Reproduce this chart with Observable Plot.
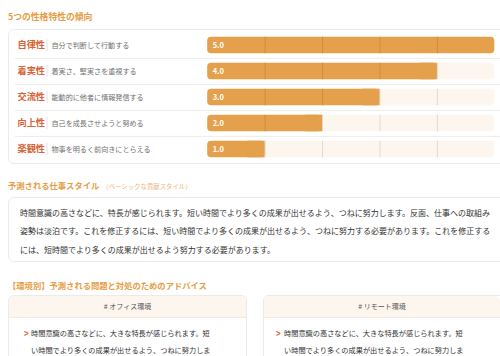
<!DOCTYPE html>
<html><head><meta charset="utf-8">
<script src="https://cdn.jsdelivr.net/npm/d3@7"></script>
<script src="https://cdn.jsdelivr.net/npm/@observablehq/plot@0.6"></script>
<style>
html,body{margin:0;padding:0;width:500px;height:356px;overflow:hidden;background:#fff;}
body{position:relative;font-family:"Noto Sans CJK JP","Noto Sans",sans-serif;color:#333;}
.abs{position:absolute;white-space:nowrap;}
.sec{font-size:8.3px;font-weight:700;color:#e69d45;line-height:12px;}
.sub{font-size:6.4px;font-weight:400;color:#eab77a;margin-left:3px;}
.card{position:absolute;border:1px solid #ebebeb;border-radius:6px;box-sizing:border-box;background:#fff;}
.body{font-size:8px;line-height:18.6px;color:#333;}
.hdr{position:absolute;left:0;right:0;top:0;height:21px;background:#fdf6ee;border-bottom:1px solid #f3ebe1;border-radius:6px 6px 0 0;font-size:7px;line-height:21px;text-align:center;color:#555;}
.item{font-size:7.2px;line-height:17.5px;color:#333;}
.chev{position:absolute;font-size:10.5px;font-weight:700;color:#d8683a;line-height:17.5px;transform:scaleX(0.75);transform-origin:left center;}
#chart{position:absolute;left:0;top:29px;width:504px;}
#chart svg{max-width:none !important;}
</style></head>
<body>
<div class="abs sec" style="left:8px;top:11px;font-size:8.8px">5つの性格特性の傾向</div>
<div class="card" style="left:8px;top:29px;width:504px;height:135px;"></div>
<div id="chart"></div>

<div class="abs sec" style="left:8px;top:179px;">予測される仕事スタイル<span class="sub">（ベーシックな貢献スタイル）</span></div>
<div class="card" style="left:8px;top:197px;width:504px;height:65px;"></div>
<div class="abs body" style="left:20px;top:203.8px;">時間意識の高さなどに、特長が感じられます。短い時間でより多くの成果が出せるよう、つねに努力します。反面、仕事への取組み<br>姿勢は淡泊です。これを修正するには、短い時間でより多くの成果が出せるよう、つねに努力する必要があります。これを修正する<br>には、短時間でより多くの成果が出せるよう努力する必要があります。</div>

<div class="abs sec" style="left:8px;top:278.7px;">【環境別】予測される問題と対処のためのアドバイス</div>
<div class="card" style="left:8px;top:295px;width:239px;height:100px;"><div class="hdr"># オフィス環境</div></div>
<div class="card" style="left:263px;top:295px;width:250px;height:100px;"><div class="hdr" style="right:12px"># リモート環境</div></div>
<div class="abs chev" style="left:24px;top:323.5px;">&gt;</div>
<div class="abs item" style="left:31px;top:324.5px;">時間意識の高さなどに、大きな特長が感じられます。短<br>い時間でより多くの成果が出せるよう、つねに努力しま</div>
<div class="abs chev" style="left:276px;top:323.5px;">&gt;</div>
<div class="abs item" style="left:284px;top:324.5px;">時間意識の高さなどに、大きな特長が感じられます。短<br>い時間でより多くの成果が出せるよう、つねに努力しま</div>

<script>
const traitNames = ["自律性", "着実性", "交流性", "向上性", "楽観性"];
const traitDescriptions = ["自分で判断して行動する", "着実さ、堅実さを重視する", "能動的に他者に情報発信する", "自己を成長させようと努める", "物事を明るく前向きにとらえる"];
const traitScores = [5.0, 4.0, 3.0, 2.0, 1.0];
const scoreMax = 5;
const gridTicks = [1, 2, 3, 4];

const rows = traitNames.map((name, i) => ({name, desc: traitDescriptions[i], score: traitScores[i]}));
const gridCells = rows.flatMap(r => gridTicks.map(g => ({name: r.name, g, filled: g < r.score})));

const W = 504, H = 134, ML = 207.2, MR = 9.7, MT = 2, MB = 1;
const step = (H - MT - MB) / traitNames.length;
const inset = 4.7;

const chart = Plot.plot({
  width: W, height: H,
  marginLeft: ML, marginRight: MR, marginTop: MT, marginBottom: MB,
  x: {domain: [0, scoreMax], axis: null},
  y: {domain: traitNames, axis: null, padding: 0},
  style: {fontFamily: '"Noto Sans CJK JP","Noto Sans",sans-serif', background: "transparent", overflow: "visible", maxWidth: "none"},
  marks: [
    Plot.ruleY(traitNames.slice(1), {y: d => d, dy: -step / 2, stroke: "#ececec", insetLeft: 15 - ML, insetRight: -MR}),
    Plot.barX(rows, {y: "name", x1: 0, x2: scoreMax, fill: "#fdf6ef", rx: 4, insetTop: inset, insetBottom: inset}),
    Plot.barX(rows, {y: "name", x1: 0, x2: "score", fill: "#e4a04b", rx: 4, insetTop: inset, insetBottom: inset}),
    Plot.barX(rows.filter(r => r.score < scoreMax), {y: "name", x1: r => r.score - 0.3, x2: "score", fill: "#e4a04b", insetTop: inset, insetBottom: inset}),
    Plot.tickX(gridCells, {x: "g", y: "name", stroke: d => d.filled ? "#c98a3e" : "#ddd2c6", strokeWidth: 0.8, insetTop: inset, insetBottom: inset}),
    Plot.tickX(rows, {x: 0, y: "name", dx: 46.5 - ML, stroke: "#e2e2e2", insetTop: 7, insetBottom: 7}),
    Plot.text(rows, {y: "name", text: "name", frameAnchor: "left", textAnchor: "start", dx: 17 - ML, fill: "#d6643a", fontWeight: 700, fontSize: 9.2}),
    Plot.text(rows, {y: "name", text: "desc", frameAnchor: "left", textAnchor: "start", dx: 51 - ML, fill: "#707070", fontSize: 7.1}),
    Plot.text(rows, {y: "name", x: 0, text: d => d.score.toFixed(1), textAnchor: "start", dx: 5, fill: "#fff", fontWeight: 700, fontSize: 7.5})
  ]
});
document.getElementById("chart").appendChild(chart);
</script>
</body></html>
